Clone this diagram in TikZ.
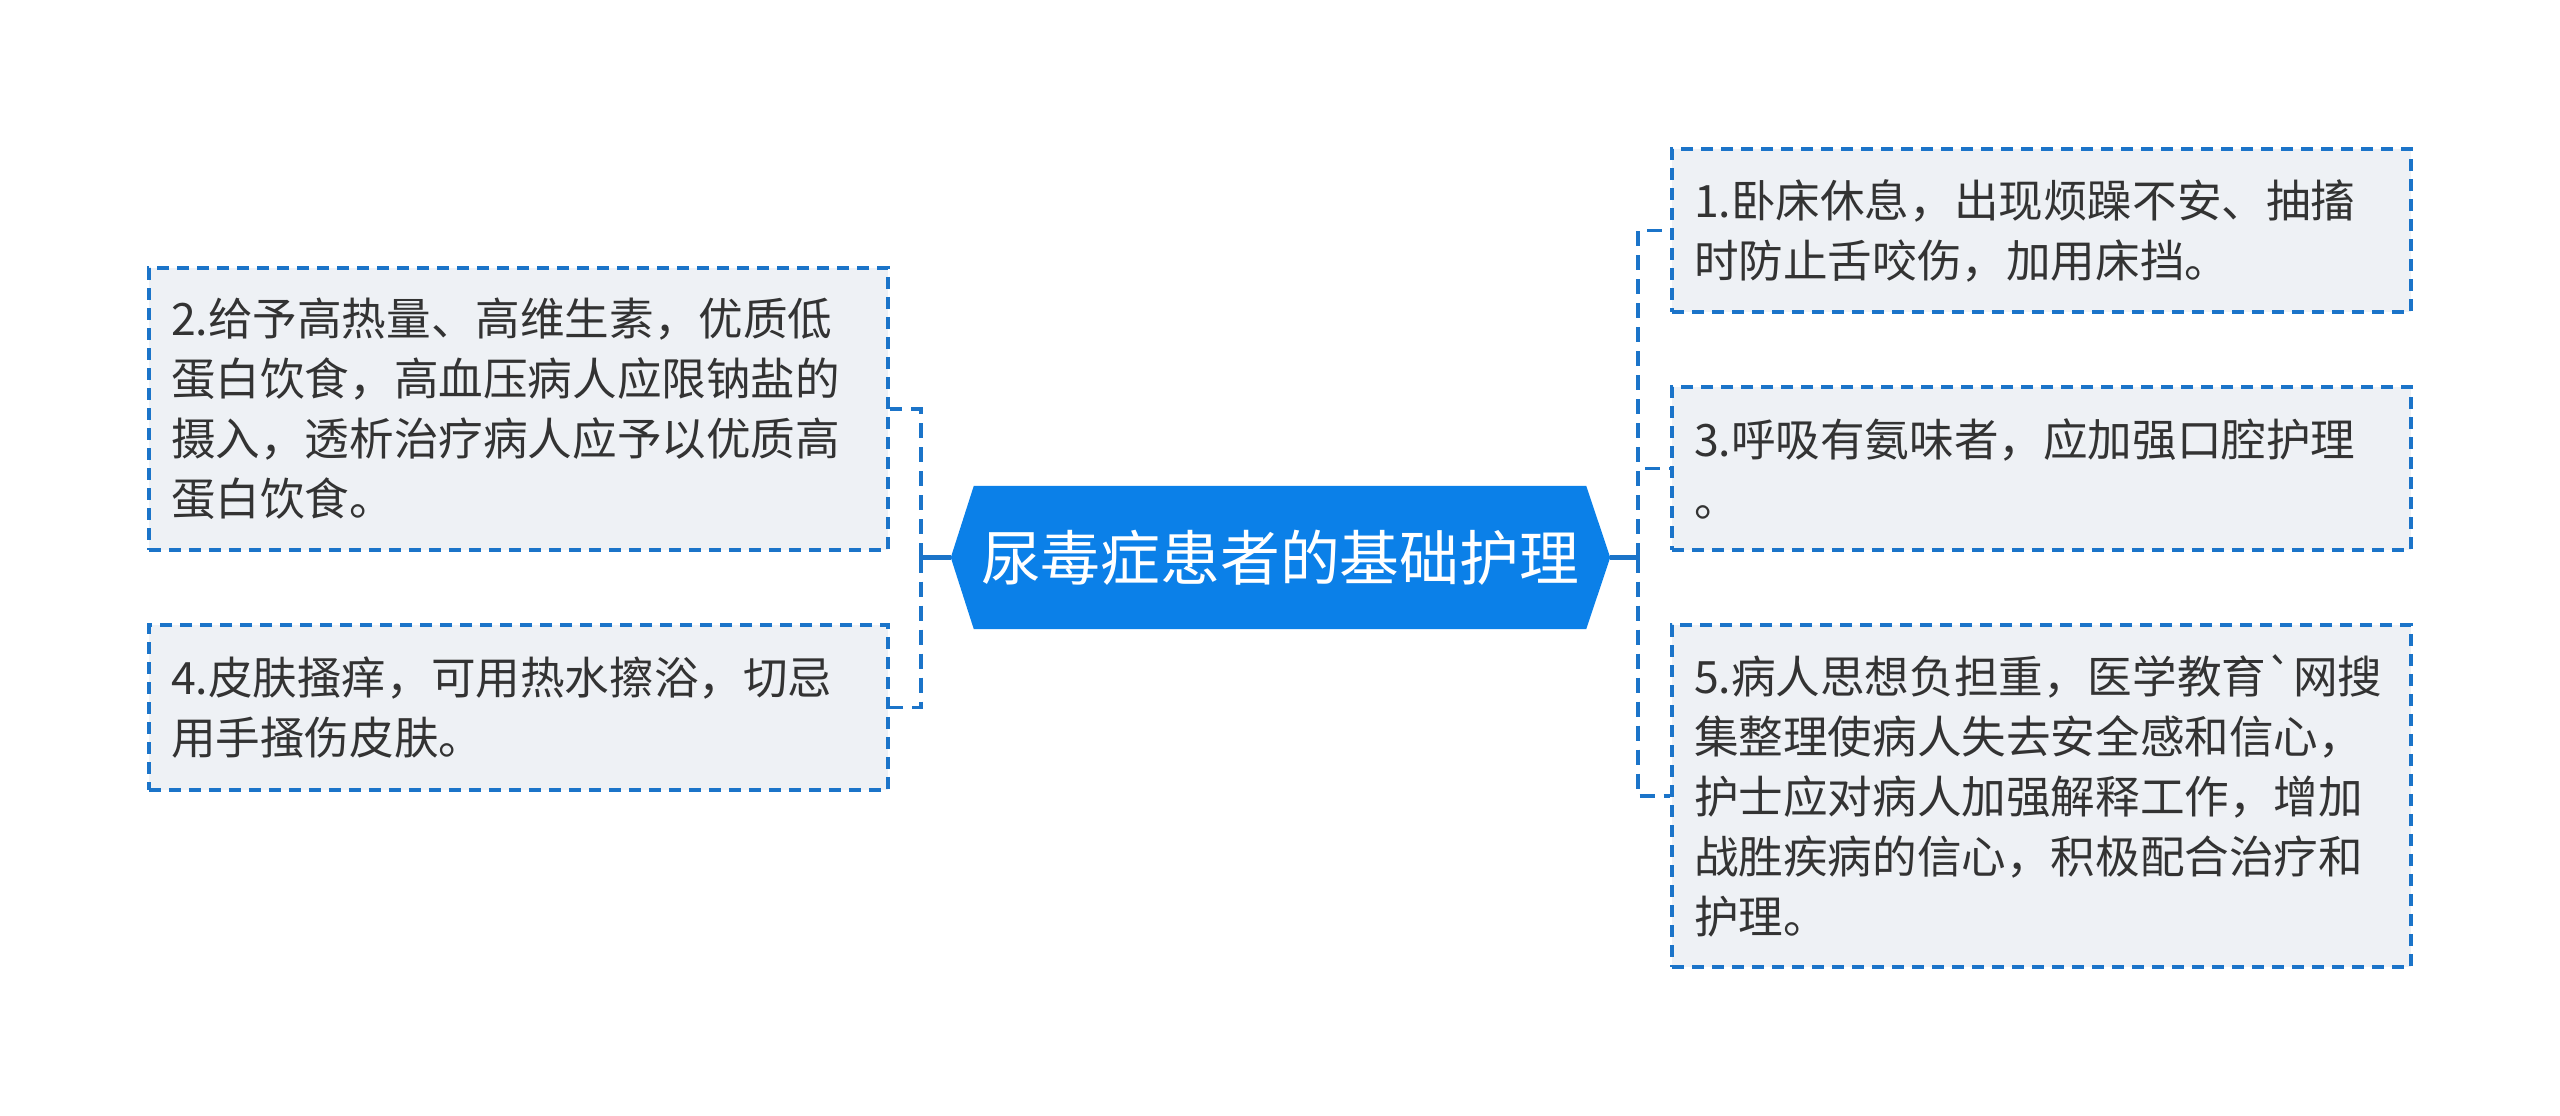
\documentclass[tikz,border=0pt]{standalone}
\usepackage{fontspec}
\setmainfont{Noto Sans CJK SC}[Ligatures=TeXOff]
\usetikzlibrary{backgrounds,calc}
\definecolor{mainblue}{HTML}{0B80E8}
\definecolor{linkblue}{HTML}{1B74C9}
\definecolor{boxfill}{HTML}{EEF1F5}
\definecolor{txt}{HTML}{333333}
\begin{document}
\begin{tikzpicture}[x=1pt,y=-1pt,
  leaf/.style={draw=linkblue, line width=3.2pt, dash pattern=on 12pt off 8pt,
    fill=boxfill, text=txt, minimum width=739pt, text width=695pt,
    inner xsep=22pt, inner ysep=0pt, align=left,
    font=\fontsize{44.6}{60}\selectfont, anchor=center},
  link/.style={draw=linkblue, line width=3.8pt, dash pattern=on 15pt off 9pt},
  stem/.style={draw=linkblue, line width=4.5pt}]
\useasboundingbox (0,0) rectangle (2560,1116);

% central topic
\node[text=white, font=\fontsize{59.8}{70}\selectfont, minimum width=612pt,
      minimum height=143pt, inner sep=0pt] (root) at (1280,557.5) {尿毒症患者的基础护理};
\coordinate (rootL) at ($(root.west)+(-23,0)$);
\coordinate (rootR) at ($(root.east)+(24,0)$);
\begin{scope}[on background layer]
  \fill[mainblue] (root.north west) -- (root.north east) -- (rootR)
    -- (root.south east) -- (root.south west) -- (rootL) -- cycle;
\end{scope}

% leaves
\node[leaf, minimum height=163pt] (b1) at (2041.5,230.5)
  {1.卧床休息，出现烦躁不安、抽搐\\时防止舌咬伤，加用床挡。};
\node[leaf, minimum height=163pt] (b3) at (2041.5,468.5)
  {3.呼吸有氨味者，应加强口腔护理\\。};
\node[leaf, minimum height=342pt] (b5) at (2041.5,796)
  {5.病人思想负担重，医学教育`网搜\\集整理使病人失去安全感和信心，\\护士应对病人加强解释工作，增加\\战胜疾病的信心，积极配合治疗和\\护理。};
\node[leaf, minimum height=282pt] (b2) at (518.5,409)
  {2.给予高热量、高维生素，优质低\\蛋白饮食，高血压病人应限钠盐的\\摄入，透析治疗病人应予以优质高\\蛋白饮食。};
\node[leaf, minimum height=165pt] (b4) at (518.5,707.5)
  {4.皮肤搔痒，可用热水擦浴，切忌\\用手搔伤皮肤。};

% connectors
\coordinate (hubL) at (921,557.5);
\coordinate (hubR) at (1638,557.5);
\draw[stem] (rootL) -- (hubL);
\draw[stem] (rootR) -- (hubR);
\draw[link] (hubL) |- (b2.east);
\draw[link] (hubL) |- (b4.east);
\draw[link] (hubR) |- (b1.west);
\draw[link] (hubR) |- (b3.west);
\draw[link] (hubR) |- (b5.west);
\end{tikzpicture}
\end{document}
